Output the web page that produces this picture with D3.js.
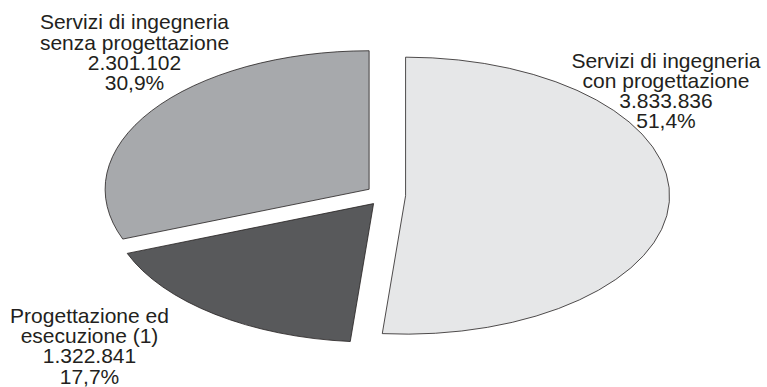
<!DOCTYPE html>
<html>
<head>
<meta charset="utf-8">
<script src="https://cdn.jsdelivr.net/npm/d3@7/dist/d3.min.js"></script>
<style>
  html, body { margin: 0; padding: 0; background: #fff; }
  svg { display: block; }
</style>
</head>
<body>
<div id="graph"></div>
<script>
// données
var categories = [
    ["Servizi di ingegneria", "con progettazione"],
    ["Progettazione ed", "esecuzione (1)"],
    ["Servizi di ingegneria", "senza progettazione"]
];
var valori = [3833836, 1322841, 2301102];
var colori = ["#e6e7e8", "#58595b", "#a7a9ac"];

// position du texte (centre, première ligne de base)
var etichette = [
    {x: 666, y: 67.5},
    {x: 89.5, y: 322.7},
    {x: 134.5, y: 29.3}
];

var totalWidth = 767, totalHeight = 387,
    cx = 385.6, cy = 195.2,
    rx = 264, ry = 138.5,
    explode = 20,
    interligne = 20.3;

var it = d3.formatLocale({decimal: ",", thousands: ".", grouping: [3], currency: ["€", ""]});
var fmtNum = it.format(",d"),
    fmtPct = it.format(".1%");
var totale = d3.sum(valori);

var svg = d3.select("#graph").append("svg")
    .attr("width", totalWidth)
    .attr("height", totalHeight);

var pie = d3.pie().sort(null).value(function(d) { return d; });
var arcs = pie(valori);
var arc = d3.arc().innerRadius(0).outerRadius(rx);

// camembert elliptique
var g = svg.append("g")
    .attr("transform", "translate(" + cx + "," + cy + ") scale(1," + (ry / rx) + ")");

g.selectAll("path")
    .data(arcs)
    .enter().append("path")
    .attr("transform", function(d) {
        var m = (d.startAngle + d.endAngle) / 2;
        return "translate(" + (explode * Math.sin(m)) + "," + (-explode * Math.cos(m)) + ")";
    })
    .attr("d", arc)
    .attr("fill", function(d, i) { return colori[i]; })
    .attr("stroke", "#231f20")
    .attr("stroke-width", 0.8)
    .attr("vector-effect", "non-scaling-stroke")
    .attr("stroke-linejoin", "miter");

// étiquettes
arcs.forEach(function(d, i) {
    var righe = categories[i].concat([fmtNum(valori[i]), fmtPct(valori[i] / totale)]);
    var t = svg.append("text")
        .attr("font-family", "'Liberation Sans', Arial, sans-serif")
        .attr("font-size", "21px")
        .attr("fill", "#231f20")
        .attr("text-anchor", "middle");
    righe.forEach(function(r, j) {
        t.append("tspan")
            .attr("x", etichette[i].x)
            .attr("y", etichette[i].y + j * interligne)
            .text(r);
    });
});
</script>
</body>
</html>
